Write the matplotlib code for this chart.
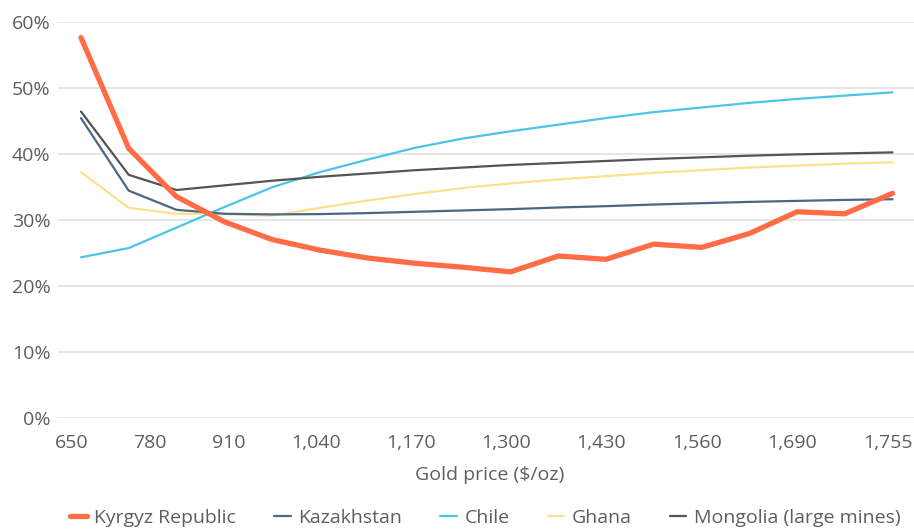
import matplotlib
matplotlib.use("Agg")
import matplotlib.pyplot as plt
from matplotlib.ticker import FuncFormatter
import numpy as np

plt.rcParams['font.family'] = ['Open Sans', 'DejaVu Sans']

# gold price categories ($/oz), step of 65
prices = [650, 715, 780, 845, 910, 975, 1040, 1105, 1170, 1235,
          1300, 1365, 1430, 1495, 1560, 1625, 1690, 1755]

# effective tax rate (%) by country
kyrgyz = [57.6, 40.8, 33.5, 29.7, 27.0, 25.4, 24.2, 23.4, 22.8, 22.1,
          24.5, 24.0, 26.3, 25.8, 27.9, 31.2, 30.9, 34.0]
kazakhstan = [45.4, 34.4, 31.5, 30.9, 30.8, 30.85, 31.0, 31.2, 31.4, 31.6,
              31.85, 32.05, 32.3, 32.5, 32.7, 32.85, 33.0, 33.1]
chile = [24.3, 25.7, 28.8, 31.9, 34.9, 37.2, 39.1, 40.9, 42.3, 43.4,
         44.4, 45.4, 46.3, 47.0, 47.7, 48.3, 48.8, 49.3]
ghana = [37.2, 31.8, 30.9, 30.85, 30.6, 31.8, 32.9, 33.9, 34.8, 35.5,
         36.1, 36.6, 37.1, 37.5, 37.9, 38.2, 38.5, 38.7]
mongolia = [46.4, 36.8, 34.5, 35.2, 35.9, 36.5, 37.0, 37.5, 37.9, 38.3,
            38.6, 38.9, 39.2, 39.45, 39.7, 39.9, 40.05, 40.2]

# x labels as printed under the chart (spread across the width)
tick_labels = ['650', '780', '910', '1,040', '1,170', '1,300',
               '1,430', '1,560', '1,690', '1,755']
tick_pos = [-0.19, 1.45, 3.10, 4.92, 6.91, 8.90, 10.89, 12.90, 14.89, 16.90]

txt = '#5e5e5e'
grid = '#e6e6e6'

fig = plt.figure(figsize=(9.14, 5.31), dpi=100)
ax = fig.add_axes([0.0631, 0.2134, 0.9369, 0.7457])

x = np.arange(len(prices))
series = [
    ('Kyrgyz Republic', kyrgyz, '#ff6c45', 3.8, 5),
    ('Kazakhstan', kazakhstan, '#4c6785', 1.6, 3),
    ('Chile', chile, '#4cc4ea', 1.6, 2),
    ('Ghana', ghana, '#fde08c', 1.6, 1),
    ('Mongolia (large mines)', mongolia, '#545454', 1.6, 4),
]
for name, vals, col, lw, z in series:
    ax.plot(x, vals, color=col, lw=lw, zorder=z, label=name,
            solid_capstyle='round', solid_joinstyle='round')

ax.set_xlim(-0.488, 17.45)
ax.set_ylim(0, 60)
ax.set_yticks(range(0, 61, 10))
ax.yaxis.set_major_formatter(FuncFormatter(lambda v, p: '%d%%' % v))
ax.set_xticks(tick_pos)
ax.set_xticklabels(tick_labels)
ax.tick_params(axis='both', length=0, labelsize=14, labelcolor=txt)
ax.tick_params(axis='x', pad=12)
ax.tick_params(axis='y', pad=5)
ax.grid(axis='y', color=grid, lw=1.4)
ax.set_axisbelow(True)
for s in ax.spines.values():
    s.set_visible(False)

fig.text(0.536, 0.106, 'Gold price ($/oz)', ha='center', va='center',
         fontsize=14, color=txt)

leg = fig.legend(loc='center', bbox_to_anchor=(0.531, 0.024), ncol=5,
                 frameon=False, fontsize=14, handlelength=0.85,
                 handletextpad=0.4, columnspacing=1.95, labelcolor=txt)

fig.savefig('out.png', dpi=100)
